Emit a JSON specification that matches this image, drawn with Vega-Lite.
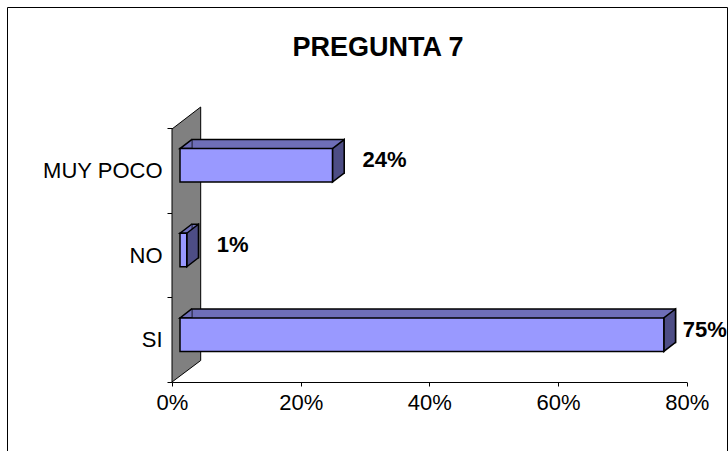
{
  "$schema": "https://vega.github.io/schema/vega-lite/v6.json",
  "autosize": {"type": "none"},
  "padding": {"left": 7, "top": 7, "right": 1, "bottom": 0},
  "width": 720,
  "height": 444,
  "background": "white",
  "config": {
    "font": "Liberation Sans",
    "view": {"stroke": "black", "strokeWidth": 1},
    "axis": {"grid": false, "domainColor": "black", "tickColor": "black", "labelColor": "black", "labelFont": "Liberation Sans", "labelFontSize": 22, "title": null, "zindex": 1}
  },
  "title": {"text": "PREGUNTA 7", "fontSize": 27, "font": "Liberation Sans", "fontWeight": "bold", "color": "black", "anchor": "middle", "frame": "group", "baseline": "alphabetic", "offset": -50, "dx": 11, "dy": 37},
  "data": {"values": [
    {"respuesta": "MUY POCO", "valor": 0.237},
    {"respuesta": "NO", "valor": 0.0105},
    {"respuesta": "SI", "valor": 0.752}
  ]},
  "encoding": {
    "y": {"field": "respuesta", "type": "nominal",
      "scale": {"domain": ["MUY POCO", "NO", "SI"], "range": [121, 375], "paddingInner": 0, "paddingOuter": 0},
      "axis": {"orient": "left", "offset": -165, "tickBand": "extent", "tickSize": 5, "labelPadding": 5, "domainWidth": 1}},
    "x": {"field": "valor", "type": "quantitative",
      "scale": {"domain": [0, 0.8], "range": [165, 679.7], "nice": false, "zero": true},
      "axis": {"orient": "bottom", "offset": -69, "values": [0, 0.2, 0.4, 0.6, 0.8], "format": ".0%", "tickSize": 4, "labelPadding": 6, "labelFlush": false}}
  },
  "layer": [
    {
      "transform": [{"filter": "datum.respuesta == 'NO'"}],
      "mark": {"type": "point", "shape": "M0,-126 L28.7,-148 L28.7,105.5 L0,127 Z", "size": 4, "filled": true, "fill": "#808080", "stroke": "black", "strokeWidth": 1, "opacity": 1},
      "encoding": {"x": {"datum": 0, "type": "quantitative"}}
    },
    {
      "mark": {"type": "bar", "height": 33.5, "xOffset": 19.7, "yOffset": -14, "fill": "#6e6eb8", "stroke": "black", "strokeWidth": 1.5}
    },
    {
      "mark": {"type": "point", "shape": "M19.7,-21.75 L8,-21.75 L19.7,-30.75", "size": 4, "filled": true, "fill": "#6e6eb8", "stroke": "black", "strokeWidth": 1.5, "opacity": 1},
      "encoding": {"x": {"datum": 0, "type": "quantitative"}}
    },
    {
      "mark": {"type": "point", "shape": "M8,-21.75 L19.7,-30.75 L19.7,2.75 L8,11.75 Z", "size": 4, "filled": true, "fill": "#4d4d85", "stroke": "black", "strokeWidth": 1.5, "opacity": 1}
    },
    {
      "mark": {"type": "bar", "height": 33.5, "xOffset": 8, "yOffset": -5, "fill": "#9999ff", "stroke": "black", "strokeWidth": 1.5}
    },
    {
      "mark": {"type": "text", "align": "left", "baseline": "middle", "fontSize": 22, "fontWeight": "bold", "color": "black", "dy": -10, "dx": {"expr": "datum.valor > 0.5 ? 27 : 38"}},
      "encoding": {"text": {"field": "valor", "format": ".0%"}}
    }
  ]
}
